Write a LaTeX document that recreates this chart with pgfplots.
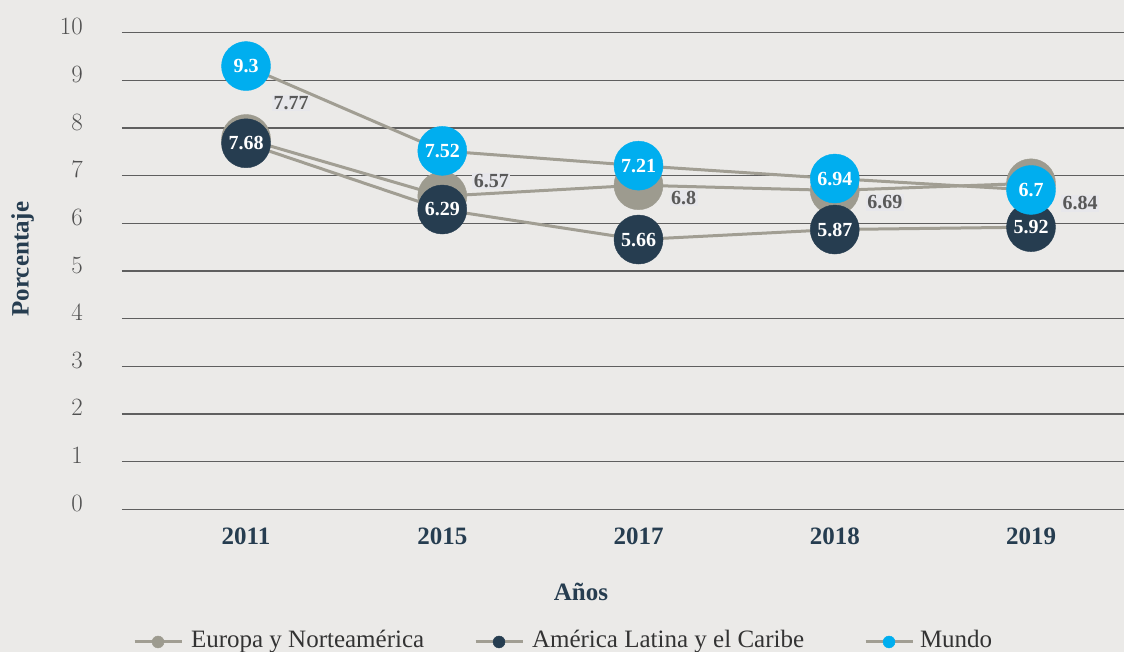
\documentclass[border=0pt]{standalone}
\usepackage{pgfplots}
\pgfplotsset{compat=1.18}
\usepackage{pgfplotstable}
\usepackage{fontspec}
\setmainfont{Liberation Serif}
\definecolor{bg}{RGB}{235,234,232}
\definecolor{gridc}{RGB}{95,95,95}
\definecolor{linec}{RGB}{161,158,147}
\definecolor{euro}{RGB}{157,155,143}
\definecolor{latam}{RGB}{38,61,80}
\definecolor{mundo}{RGB}{0,174,239}
\definecolor{navy}{RGB}{38,61,80}
\definecolor{ticky}{RGB}{80,80,80}
\definecolor{eurotext}{RGB}{89,89,89}
\definecolor{labbg}{RGB}{231,231,235}
\definecolor{legtext}{RGB}{51,51,51}

\pgfplotstableread{
x y lab dx dy
0 7.77 7.77 45 36
1 6.57 6.57 49 15
2 6.8 6.8 45 -13
3 6.69 6.69 50 -12
4 6.84 6.84 49 -20
}\europa
\pgfplotstableread{
x y lab
0 7.68 7.68
1 6.29 6.29
2 5.66 5.66
3 5.87 5.87
4 5.92 5.92
}\latamtab
\pgfplotstableread{
x y lab
0 9.3 9.3
1 7.52 7.52
2 7.21 7.21
3 6.94 6.94
4 6.7 6.7
}\mundotab

\begin{document}
\begin{tikzpicture}
\fill[bg] (-122pt,-142.7pt) rectangle (1002pt,509.3pt);
\begin{axis}[
  scale only axis, width=1002pt, height=476.6pt,
  xmin=-0.632, xmax=4.474, ymin=0, ymax=10,
  clip=false,
  axis line style={draw=none},
  major tick length=0pt,
  ytick={0,1,...,10},
  xtick={0,1,2,3,4},
  xticklabels={2011,2015,2017,2018,2019},
  ymajorgrids, grid style={gridc, line width=1.4pt},
  yticklabel style={font=\fontsize{25}{30}\selectfont, text=ticky, anchor=east, inner sep=0pt, xshift=-39pt, yshift=6pt},
  xticklabel style={font=\bfseries\fontsize{25}{30}\selectfont, text=navy, anchor=north, inner sep=0pt, yshift=-18pt},
  xlabel={Años},
  xlabel style={at={(axis description cs:0.458,-0.1918)}, anchor=base, inner sep=0pt, font=\bfseries\fontsize{25}{30}\selectfont, text=navy},
  ylabel={Porcentaje},
  ylabel style={at={(axis description cs:-0.0993,0.525)}, anchor=center, inner sep=0pt, font=\bfseries\fontsize{25}{30}\selectfont, text=navy},
  legend columns=3,
  legend style={draw=none, fill=none, inner sep=0pt, outer sep=0pt, column sep=0pt,
    nodes={inner sep=0pt}, font=\fontsize{25}{30}\selectfont, text=legtext,
    at={(axis description cs:0.011,-0.270)}, anchor=west},
  legend cell align=left,
  legend image code/.code={
    \draw[linec, line width=3pt] (0pt,-4pt) -- (47pt,-4pt);
    \draw[#1, mark size=6pt] plot coordinates {(23.5pt,-4pt)};
  },
]
% lines
\addplot[linec, line width=3pt, forget plot] table[x=x, y=y] {\europa};
\addplot[linec, line width=3pt, forget plot] table[x=x, y=y] {\latamtab};
\addplot[linec, line width=3pt, forget plot] table[x=x, y=y] {\mundotab};
% markers
\addplot[only marks, color=euro, mark=*, mark size=24.5pt, mark options={draw=euro, fill=euro},
  point meta=explicit symbolic,
  visualization depends on={\thisrow{dx} \as \dx},
  visualization depends on={\thisrow{dy} \as \dy},
  nodes near coords,
  nodes near coords style={anchor=center, xshift=\dx*1pt, yshift=\dy*1pt,
    font=\bfseries\fontsize{20}{24}\selectfont, text=eurotext, fill=labbg, inner sep=1.5pt}
] table[x=x, y=y, meta=lab] {\europa};
\addlegendentry{\makebox[291pt][l]{\hspace{8pt}Europa y Norteamérica\strut}}
\addplot[only marks, color=latam, mark=*, mark size=24.5pt, mark options={draw=latam, fill=latam},
  point meta=explicit symbolic,
  nodes near coords,
  nodes near coords style={anchor=center, font=\bfseries\fontsize{20}{24}\selectfont, text=white}
] table[x=x, y=y, meta=lab] {\latamtab};
\addlegendentry{\makebox[340pt][l]{\hspace{8pt}América Latina y el Caribe\strut}}
\addplot[only marks, color=mundo, mark=*, mark size=24.5pt, mark options={draw=mundo, fill=mundo},
  point meta=explicit symbolic,
  nodes near coords,
  nodes near coords style={anchor=center, font=\bfseries\fontsize{20}{24}\selectfont, text=white}
] table[x=x, y=y, meta=lab] {\mundotab};
\addlegendentry{\hspace{6pt}Mundo\strut}
\end{axis}
\pgfresetboundingbox
\path (-122pt,-142.7pt) rectangle (1002pt,509.3pt);
\end{tikzpicture}
\end{document}
